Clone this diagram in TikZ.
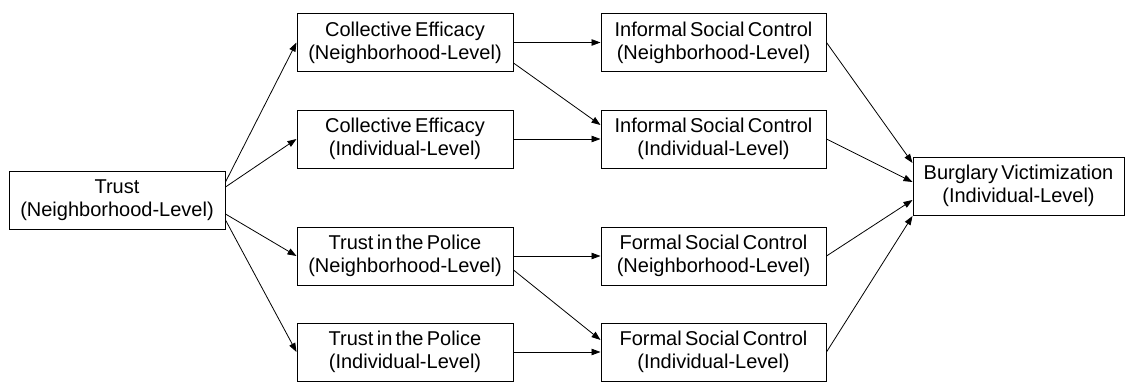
\documentclass[tikz,border=0pt]{standalone}
\usepackage{fontspec}
\setmainfont{Liberation Sans}[WordSpace=0.6]
\usetikzlibrary{arrows.meta,calc}

\tikzset{
  box/.style={draw, line width=1pt, inner sep=0pt, align=center,
    font=\fontsize{20}{23}\selectfont, minimum height=58pt},
  narrowbox/.style={box, minimum width=216pt},
  widebox/.style={box, minimum width=225pt},
  link/.style={line width=0.8pt, -{Triangle[length=9pt,width=6.5pt]}}
}

\begin{document}
\begin{tikzpicture}[x=1pt, y=-1pt]
  \useasboundingbox (0,0) rectangle (1126,383);

  % causal chain boxes
  \node[narrowbox] (trust) at (117,200) {Trust\\(Neighborhood-Level)};

  \node[narrowbox] (ce1) at (405,42.5) {Collective Efficacy\\(Neighborhood-Level)};
  \node[narrowbox] (ce2) at (405,139)  {Collective Efficacy\\(Individual-Level)};
  \node[narrowbox] (tp1) at (405,256)  {Trust in the Police\\(Neighborhood-Level)};
  \node[narrowbox] (tp2) at (405,352)  {Trust in the Police\\(Individual-Level)};

  \node[widebox] (isc1) at (713.5,42.5) {Informal Social Control\\(Neighborhood-Level)};
  \node[widebox] (isc2) at (713.5,139)  {Informal Social Control\\(Individual-Level)};
  \node[widebox] (fsc1) at (713.5,256)  {Formal Social Control\\(Neighborhood-Level)};
  \node[widebox] (fsc2) at (713.5,352)  {Formal Social Control\\(Individual-Level)};

  \node[box, minimum width=211pt] (burg) at (1018.5,186) {Burglary Victimization\\(Individual-Level)};

  % trust to mediators
  \draw[link] ($(trust.east)+(0,-18)$) -- (ce1.west);
  \draw[link] ($(trust.east)+(0,-13)$) -- (ce2.west);
  \draw[link] ($(trust.east)+(0,14)$)  -- (tp1.west);
  \draw[link] ($(trust.east)+(0,20)$)  -- (tp2.west);

  % mediators to social control
  \draw[link] (ce1.east) -- (isc1.west);
  \draw[link] ($(ce1.east)+(0,20.5)$) -- ($(isc2.west)+(0,-14)$);
  \draw[link] (ce2.east) -- (isc2.west);
  \draw[link] (tp1.east) -- (fsc1.west);
  \draw[link] ($(tp1.east)+(0,14)$) -- ($(fsc2.west)+(0,-12)$);
  \draw[link] (tp2.east) -- (fsc2.west);

  % social control to outcome
  \draw[link] (isc1.east) -- ($(burg.west)+(0,-23)$);
  \draw[link] (isc2.east) -- ($(burg.west)+(0,-4)$);
  \draw[link] (fsc1.east) -- ($(burg.west)+(0,14)$);
  \draw[link] (fsc2.east) -- ($(burg.west)+(0,30)$);
\end{tikzpicture}
\end{document}
